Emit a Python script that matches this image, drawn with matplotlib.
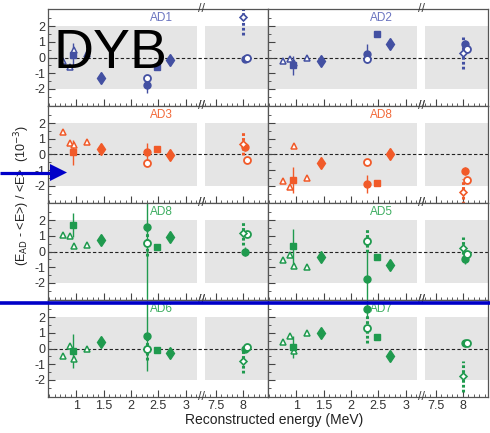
import numpy as np
import matplotlib.pyplot as plt
from matplotlib.transforms import blended_transform_factory

plt.rcParams['font.family'] = ['Liberation Sans', 'DejaVu Sans']
plt.rcParams['axes.unicode_minus'] = False

# --- Données : écart relatif (10^-3) par détecteur ---
noms_ad = ["AD1", "AD2", "AD3", "AD8", "AD8", "AD5", "AD6", "AD7"]
couleurs_ad = ["#4350a2", "#4350a2", "#f15a29", "#f15a29",
               "#1f9a4e", "#1f9a4e", "#1f9a4e", "#1f9a4e"]
couleurs_titre = ["#6a74c0", "#6a74c0", "#f26a3a", "#f26a3a",
                  "#3fae62", "#3fae62", "#3fae62", "#3fae62"]

e_triangles = [0.76, 0.88, 0.95, 1.20]
e_carres = [0.93, 2.48]
e_losanges = [1.46, 2.71]
e_nh = 2.30
e_ngd_plein = 8.03
e_ngd_vide = 8.07
e_ngd_losange = 8.00

val_triangles = [
    [-0.20, -0.60, 0.46, 0.21],
    [-0.20, -0.12, -0.35, 0.00],
    [1.44, 0.76, 0.59, 0.80],
    [-1.70, -2.10, 0.55, -1.53],
    [1.04, 1.00, 0.37, 0.42],
    [-0.56, -0.25, -0.94, -1.02],
    [-0.49, 0.19, -0.66, -0.02],
    [0.42, 0.83, -0.17, 0.96],
]
val_carres = [
    [0.15, -0.63],
    [-0.49, 1.52],
    [0.13, 0.34],
    [-1.64, -1.85],
    [1.69, 0.27],
    [0.37, -0.36],
    [-0.17, -0.07],
    [0.10, 0.74],
]
err_carres = [0.75, 0.60, 0.80, 0.85, 0.75, 1.10, 1.07, 0.72]
val_losanges = [
    [-1.33, -0.17],
    [-0.23, 0.84],
    [0.32, -0.04],
    [-0.57, 0.06],
    [0.71, 0.94],
    [-0.36, -0.87],
    [0.42, -0.28],
    [1.00, -0.49],
]
val_nh_plein = [-1.75, 0.25, 0.13, -1.89, 1.58, -1.75, 0.79, 2.53]
err_nh_plein = [0.55, 0.60, 0.60, 0.55, 4.60, 1.80, 2.25, 0.60]
val_nh_vide = [-1.33, -0.11, -0.57, -0.47, 0.52, 0.69, -0.03, 1.28]
err_nh_vide = [0.00, 0.00, 0.00, 0.00, 0.80, 0.75, 0.70, 0.90]
val_ngd_plein = [-0.10, 0.84, 0.45, -1.06, 0.00, -0.50, 0.00, 0.32]
err_ngd_plein = [0.20, 0.25, 0.25, 0.25, 0.30, 0.30, 0.25, 0.20]
val_ngd_vide = [0.00, 0.57, -0.36, -1.64, 1.10, -0.14, 0.12, 0.32]
val_ngd_losange = [2.57, 0.29, 0.70, -2.38, 1.16, 0.21, -0.81, -1.77]
err_ngd_losange = [1.10, 1.05, 0.75, 0.80, 0.73, 0.70, 0.75, 1.00]

ticks_x = [1, 1.5, 2, 2.5, 3, 7.5, 8]
labels_x = ["1", "1.5", "2", "2.5", "3", "7.5", "8"]

# --- Axe en énergie coupé entre 3.25 et 7.3 MeV ---
COUPE_BAS, COUPE_HAUT, ECART = 3.25, 7.30, 0.10
K = ECART / (COUPE_HAUT - COUPE_BAS)


def vers_axe(e):
    """ Compresse la zone vide entre les deux morceaux de l'axe. """
    e = np.asarray(e, dtype=float)
    return np.where(e <= COUPE_BAS, e,
                    np.where(e >= COUPE_HAUT, e - COUPE_HAUT + COUPE_BAS + ECART,
                             COUPE_BAS + (e - COUPE_BAS) * K))


def depuis_axe(x):
    """ Fonction inverse de vers_axe. """
    x = np.asarray(x, dtype=float)
    return np.where(x <= COUPE_BAS, x,
                    np.where(x >= COUPE_BAS + ECART, x + COUPE_HAUT - COUPE_BAS - ECART,
                             COUPE_BAS + (x - COUPE_BAS) / K))


def barre(ax, x, y, err, couleur, pointille=False):
    """ Barre d'erreur verticale, pleine ou pointillée. """
    if err <= 0:
        return
    if pointille:
        ax.vlines(x, y - err, y + err, colors=couleur, linewidth=2.2,
                  linestyles=[(0, (0.9, 0.7))], zorder=2)
    else:
        ax.errorbar([x], [y], yerr=[err], fmt='none', ecolor=couleur,
                    elinewidth=1.0, capsize=0, zorder=2)


def dessiner_panneau(ax, i, bas):
    c = couleurs_ad[i]
    ax.set_xscale('function', functions=(vers_axe, depuis_axe))
    ax.set_xlim(0.48, 8.46)
    ax.set_ylim(-3.1, 3.1)

    # bandes grises +-2 et ligne zéro
    ax.fill_between([0.48, 3.21], -2, 2, color="#e5e5e5", lw=0, zorder=0)
    ax.fill_between([7.31, 8.46], -2, 2, color="#e5e5e5", lw=0, zorder=0)
    ax.axhline(0, color="#222222", ls=(0, (3, 2)), lw=0.8, zorder=1)

    # barres d'erreur
    barre(ax, e_carres[0], val_carres[i][0], err_carres[i], c)
    barre(ax, e_nh, val_nh_plein[i], err_nh_plein[i], c)
    barre(ax, e_nh, val_nh_vide[i], err_nh_vide[i], c, pointille=True)
    barre(ax, e_ngd_plein, val_ngd_plein[i], err_ngd_plein[i], c)
    barre(ax, e_ngd_losange, val_ngd_losange[i], err_ngd_losange[i], c, pointille=True)

    # points
    ax.plot(e_triangles, val_triangles[i], '^', ms=5, mfc='white', mec=c, mew=1.1, ls='none', zorder=3)
    ax.plot(e_carres, val_carres[i], 's', ms=5, color=c, ls='none', zorder=3)
    ax.plot(e_losanges, val_losanges[i], 'd', ms=6, color=c, ls='none', zorder=3)
    ax.plot([e_nh], [val_nh_plein[i]], 'o', ms=5, color=c, zorder=3)
    ax.plot([e_nh], [val_nh_vide[i]], 'o', ms=5, mfc='white', mec=c, mew=1.3, zorder=4)
    ax.plot([e_ngd_plein], [val_ngd_plein[i]], 'o', ms=5, color=c, zorder=3)
    ax.plot([e_ngd_vide], [val_ngd_vide[i]], 'o', ms=5, mfc='white', mec=c, mew=1.3, zorder=4)
    ax.plot([e_ngd_losange], [val_ngd_losange[i]], 'D', ms=3.5, mfc='white', mec=c, mew=1.2, zorder=4)

    ax.text(2.56, 2.55, noms_ad[i], color=couleurs_titre[i], fontsize=8.5,
            ha='center', va='center')

    # graduations
    ax.set_xticks(ticks_x)
    ax.set_xticklabels(labels_x if bas else [])
    ax.set_xticks(list(np.arange(0.5, 3.21, 0.1)) + list(np.arange(7.3, 8.45, 0.1)), minor=True)
    ax.set_yticks([-2, -1, 0, 1, 2])
    ax.set_yticks(np.arange(-2.5, 2.6, 0.5), minor=True)
    if i % 2 == 1:
        ax.set_yticklabels([])
    ax.tick_params(which='both', direction='in', color="#444444", labelcolor="#333333",
                   labelsize=9, pad=2)
    ax.tick_params(which='major', length=5)
    ax.tick_params(which='minor', length=2.5)
    for s in ax.spines.values():
        s.set_color("#555555")
        s.set_linewidth(0.9)

    # marques de coupure "//"
    tr = blended_transform_factory(ax.transData, ax.transAxes)
    for yy in (0.0, 1.0):
        ax.text(5.27, yy, "//", transform=tr, ha='center', va='center', fontsize=9,
                color="#444444", clip_on=False, zorder=5)


fig = plt.figure(figsize=(4.9, 4.33), dpi=100)
W, H = 490.0, 433.0
for i in range(8):
    ligne, col = i // 2, i % 2
    x0 = 48 if col == 0 else 268
    haut = 9 + 97 * ligne
    ax = fig.add_axes([x0 / W, 1 - (haut + 97) / H, 220 / W, 97 / H])
    dessiner_panneau(ax, i, bas=(ligne == 3))

fig.text(274 / W, 1 - 420 / H, "Reconstructed energy (MeV)", ha='center', va='center',
         fontsize=10, color="#222222")
fig.text(22 / W, 1 - 195 / H, r"(E$_{\rm AD}$ - <E>) / <E>  (10$^{-3}$)", rotation=90,
         ha='center', va='center', fontsize=9, color="#222222")
fig.text(53 / W, 1 - 68 / H, "DYB", fontsize=40, va='baseline', ha='left', color='black',
         family=['Liberation Sans Narrow', 'Liberation Sans'], zorder=6)

# flèche et trait bleus par-dessus la figure
sur = fig.add_axes([0, 0, 1, 1], zorder=10)
sur.set_xlim(0, W)
sur.set_ylim(H, 0)
sur.axis('off')
sur.plot([0, W], [303, 303], color="#0000c8", lw=2.6, solid_capstyle='butt')
sur.plot([0, 52], [172.5, 172.5], color="#0000c8", lw=2.3, solid_capstyle='butt')
sur.fill([50, 67, 50], [164, 172.5, 181], color="#0000c8", lw=0)

fig.savefig("out.png", dpi=100)
